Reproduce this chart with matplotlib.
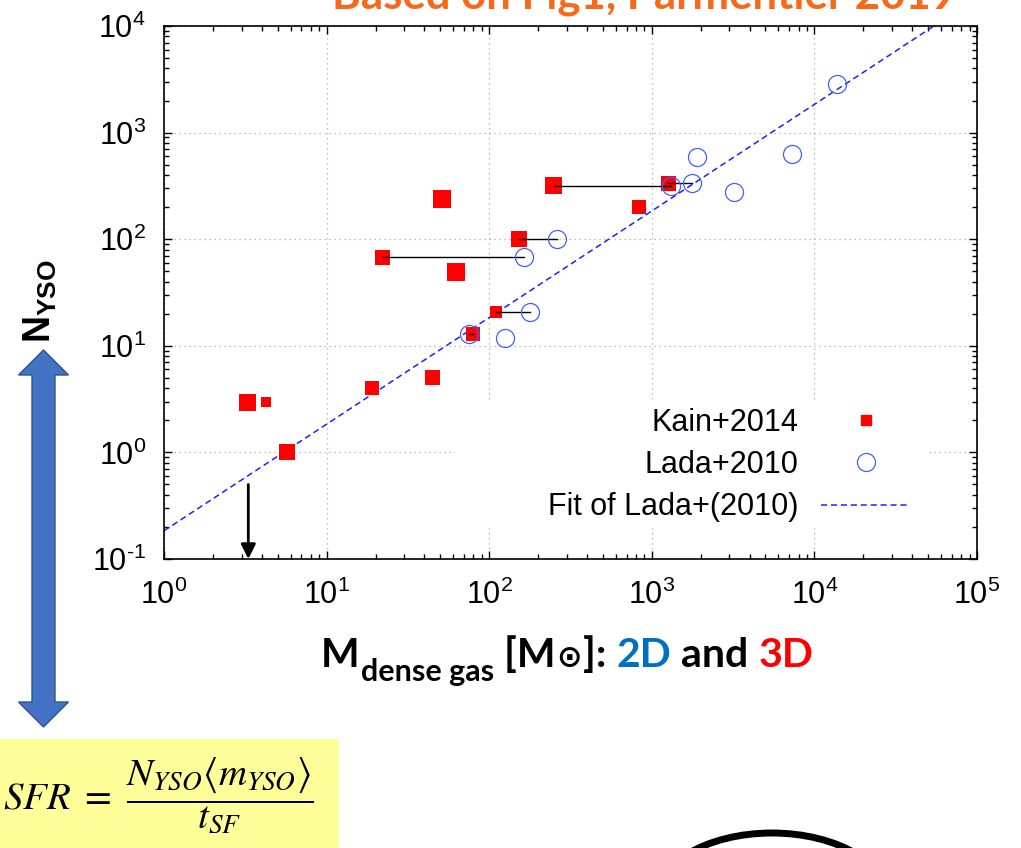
import matplotlib
matplotlib.use('Agg')
import matplotlib.pyplot as plt
import numpy as np
from matplotlib.lines import Line2D
from matplotlib.patches import Rectangle, Polygon, Ellipse
from matplotlib.ticker import FuncFormatter

# Kain+2014 (3D dense gas masses)
kain_mass = [3.24, 4.24, 5.71, 19.0, 44.5, 79.7, 110, 22.2, 62.5, 51, 152, 250, 836, 1260]
kain_nyso = [2.97, 3.0, 1.0, 4.0, 5.0, 12.9, 20.7, 68, 49, 238, 100, 316, 200, 336]
kain_px = [17, 10, 16, 14, 15, 14, 12, 15, 18, 18, 16, 17, 14, 15]  # square side, pixels

# Lada+2010 (2D masses)
lada_mass = [75, 125, 178, 164, 261, 1313, 1767, 1897, 3205, 7280, 13770]
lada_nyso = [12.9, 11.8, 20.7, 68, 100, 316, 336, 590, 277, 630, 2860]

# same cloud: 3D mass -> 2D mass
link_m3d = [22.2, 152, 110, 79.7, 250, 1260]
link_m2d = [164, 261, 178, 75, 1313, 1767]
link_nyso = [68, 100, 20.7, 12.9, 316, 336]

fit_coef = 0.184      # N_YSO = 0.184 M (Lada+2010)
fit_range = [1, 1e5]
arrow_mass = 3.3

W, H = 1021, 848
plt.rcParams['font.family'] = 'Liberation Sans'
plt.rcParams['mathtext.fontset'] = 'custom'
plt.rcParams['mathtext.rm'] = 'Liberation Sans'
plt.rcParams['mathtext.bf'] = 'Liberation Sans:bold'
plt.rcParams['mathtext.it'] = 'Liberation Sans:italic'

fig = plt.figure(figsize=(W / 100, H / 100), dpi=100)
ax = fig.add_axes([164 / W, 1 - 559 / H, (977 - 164) / W, (559 - 26) / H])

# decoration layer in pixel coords
deco = fig.add_axes([0, 0, 1, 1], zorder=-1)
deco.set_xlim(0, W)
deco.set_ylim(H, 0)
deco.axis('off')

def pow10(v, pos):
    e = int(round(np.log10(v)))
    if e < 0:
        return r'$\mathregular{10^{\text{-}%d}}$' % (-e)
    return r'$\mathregular{10^{%d}}$' % e

ax.set_xscale('log')
ax.set_yscale('log')
ax.set_xlim(1, 1e5)
ax.set_ylim(0.1, 1e4)
ax.xaxis.set_major_formatter(FuncFormatter(pow10))
ax.yaxis.set_major_formatter(FuncFormatter(pow10))
ax.set_axisbelow(True)
ax.grid(True, which='major', color='#aaaaaa', linestyle=(0, (1, 3)), lw=0.9)
ax.tick_params(which='both', direction='in', top=True, right=True, width=1, labelsize=22)
ax.tick_params(which='major', length=6)
ax.tick_params(axis='x', which='major', pad=15)
ax.tick_params(axis='y', which='major', pad=13)
ax.tick_params(which='minor', length=3.5)
for s in ax.spines.values():
    s.set_linewidth(1.2)

# white key background (hides grid)
ax.add_patch(Rectangle((0.358, 0.058), 0.582, 0.237, transform=ax.transAxes,
                       facecolor='white', edgecolor='none', zorder=1))

fx = np.array(fit_range)
ax.plot(fx, fit_coef * fx, color='#1f1fff', lw=1.1, linestyle=(0, (4, 2.5)), zorder=2)

ax.scatter(kain_mass, kain_nyso, marker='s', s=(np.array(kain_px) * 0.72) ** 2,
           color='#ff0000', edgecolors='none', zorder=3)
for a, b, n in zip(link_m3d, link_m2d, link_nyso):
    ax.plot([a, b], [n, n], color='black', lw=1.0, zorder=4)
ax.plot(lada_mass, lada_nyso, 'o', ms=13, mfc='none', mec='#4060ff', mew=0.9, zorder=5)

ax.annotate('', xy=(arrow_mass, 0.1), xytext=(arrow_mass, 0.5),
            arrowprops=dict(arrowstyle='-|>', color='black', lw=2, mutation_scale=22,
                            shrinkA=0, shrinkB=0), zorder=6)

handles = [Line2D([], [], marker='s', ls='none', color='#ff0000', ms=6.5),
           Line2D([], [], marker='o', ls='none', mfc='none', mec='#4060ff', mew=0.9, ms=13),
           Line2D([], [], color='#1f1fff', lw=1.1, linestyle=(0, (4, 2.5)))]
labels = ['Kain+2014', 'Lada+2010', 'Fit of Lada+(2010)']
ax.legend(handles, labels, loc='center right', bbox_to_anchor=(0.929, 0.176),
          markerfirst=False, frameon=False, fontsize=22, handlelength=2.9,
          handletextpad=0.75, labelspacing=0.4, borderpad=0.3, borderaxespad=0)

# title (cut off at top of slide, as in the source)
fig.text(332 / W, 1 - 9 / H, 'Based on Fig1, Parmentier 2019', color='#f7691a',
         fontweight='bold', fontsize=31.5, family='Lato', va='baseline')

# y label
fig.text(40 / W, 1 - 301 / H, r'$\mathbf{N}_{\mathbf{YSO}}$', rotation=90,
         ha='center', va='center', fontsize=27)

# x label built from pieces
renderer = fig.canvas.get_renderer()
def put(s, x, y, size, color='black'):
    t = fig.text(x / W, 1 - y / H, s, fontsize=size, color=color, fontweight='bold',
                 family=['Lato', 'DejaVu Sans'], va='baseline', ha='left')
    return x + t.get_window_extent(renderer).width

x = 321
x = put('M', x, 667, 29.5)
x = put('dense gas', x + 1, 681, 22)
x = put(' [M', x, 667, 29.5)
x = put('\u2299', x + 1, 667, 22)
x = put(']: ', x + 1, 667, 29.5)
x = put('2D', x, 667, 29.5, '#0070c0')
x = put(' and ', x, 667, 29.5)
x = put('3D', x, 667, 29.5, '#ff0000')

# blue double arrow
cx = 43.5
pts = [(cx, 350), (cx + 25, 375), (cx + 11.5, 375), (cx + 11.5, 702), (cx + 25, 702),
       (cx, 727), (cx - 25, 702), (cx - 11.5, 702), (cx - 11.5, 375), (cx - 25, 375)]
deco.add_patch(Polygon(pts, closed=True, facecolor='#4472c4', edgecolor='#2f528f', lw=1))

# yellow formula box
deco.add_patch(Rectangle((0, 739), 339, 110, facecolor='#ffff99', edgecolor='none'))
deco.text(3, 795, r'$SFR\ =\ \dfrac{N_{YSO}\langle m_{YSO}\rangle}{t_{SF}}$',
          math_fontfamily='stix', fontsize=28, va='center', ha='left')

# partial ring at bottom
deco.add_patch(Ellipse((772, 905), 240, 144, fill=False, lw=5, ec='black'))

fig.savefig('out.png', dpi=100)
